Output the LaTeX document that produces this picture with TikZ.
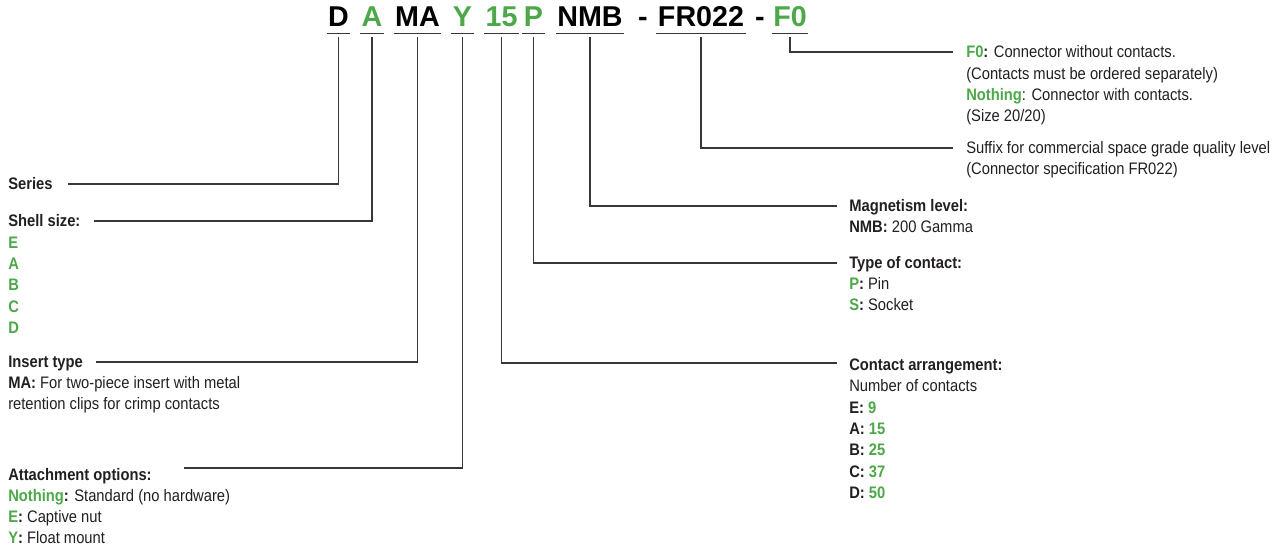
\documentclass[tikz,border=0pt]{standalone}
\usepackage{fontspec}
\setmainfont[FakeStretch=0.885]{Liberation Sans}
\newfontfamily\codefont{Liberation Sans}
\usetikzlibrary{positioning}

\definecolor{codegreen}{RGB}{76,168,72}
\definecolor{leadgray}{RGB}{55,55,55}
\definecolor{inkgray}{RGB}{35,31,32}
\newcommand\gkey[1]{\textcolor{codegreen}{\textbf{#1}}}

\tikzset{
  code/.style={font=\codefont\bfseries\fontsize{21.5}{24}\selectfont, anchor=base,
    inner xsep=1pt, inner ysep=4.5pt, text height=15pt, text depth=0pt},
  label/.style={anchor=base west, inner sep=0pt, text height=9pt, text depth=0pt, text=inkgray},
  lead/.style={draw=leadgray, line width=0.8pt},
  bar/.style={draw=leadgray, line width=0.8pt}
}

\begin{document}
\begin{tikzpicture}[x=0.75pt, y=-0.75pt, font=\fontsize{12.5}{16}\selectfont]
\useasboundingbox (0,0) rectangle (1273,548);

% part number
\node[code] (cD) at (338.5,27) {D};
\node[code, text=codegreen] (cA) at (372,27) {A};
\node[code] (cMA) at (417.5,27) {MA};
\node[code, text=codegreen] (cY) at (462.5,27) {Y};
\node[code, text=codegreen] (c15) at (501.5,27) {15};
\node[code, text=codegreen] (cP) at (533.5,27) {P};
\node[code] (cNMB) at (590,27) {NMB};
\node[code] (dash1) at (643,27) {-};
\node[code] (cFR) at (701,27) {FR022};
\node[code] (dash2) at (760,27) {-};
\node[code, text=codegreen] (cF0) at (790,27) {F0};
\foreach \n in {cD,cA,cMA,cY,c15,cP,cNMB,cFR,cF0}
  \draw[bar] (\n.south west) -- (\n.south east);

% left side
\node[label] (series) at (8,190) {\bfseries Series};
\node[label] (shell) at (8,227) {\bfseries Shell size:};
\foreach \k [count=\i] in {E,A,B,C,D}
  \node[label] (shell-\i) at (8,227+21.3*\i) {\gkey{\k}};
\node[label] (insert) at (8,368) {\bfseries Insert type};
\node[label] (insert-1) at (8,389) {\textbf{MA:} For two-piece insert with metal};
\node[label] (insert-2) at (8,410) {retention clips for crimp contacts};
\node[label] (attach) at (8,480) {\bfseries Attachment options:};
\node[label] (attach-1) at (8,501) {\gkey{Nothing}\textbf{:} Standard (no hardware)};
\node[label] (attach-2) at (8,522) {\gkey{E}\textbf{:} Captive nut};
\node[label] (attach-3) at (8,543) {\gkey{Y}\textbf{:} Float mount};

% right side
\node[label] (f0) at (966,58) {\gkey{F0}\textbf{:} Connector without contacts.};
\node[label] (f0-1) at (966,79.5) {(Contacts must be ordered separately)};
\node[label] (f0-2) at (966,101) {\gkey{Nothing}: Connector with contacts.};
\node[label] (f0-3) at (966,122) {(Size 20/20)};
\node[label] (suffix) at (966,154) {Suffix for commercial space grade quality level};
\node[label] (suffix-1) at (966,175) {(Connector specification FR022)};
\node[label] (magnet) at (849,212) {\bfseries Magnetism level:};
\node[label] (magnet-1) at (849,233) {\textbf{NMB:} 200 Gamma};
\node[label] (contact) at (849,269) {\bfseries Type of contact:};
\node[label] (contact-1) at (849,290) {\gkey{P}\textbf{:} Pin};
\node[label] (contact-2) at (849,311) {\gkey{S}\textbf{:} Socket};
\node[label] (arrange) at (849,371) {\bfseries Contact arrangement:};
\node[label] (arrange-1) at (849,392) {Number of contacts};
\foreach \k/\n [count=\i from 2] in {E/9,A/15,B/25,C/37,D/50}
  \node[label] (arrange-\i) at (849,392+21.3*\i-21.3) {\textbf{\k:} \gkey{\n}};

% leaders
\draw[lead, shorten <=3pt, shorten >=11.25pt] (cD.south) |- (series.east);
\draw[lead, shorten <=3pt, shorten >=9.75pt] (cA.south) |- (shell.east);
\draw[lead, shorten <=3pt, shorten >=9.75pt] (cMA.south) |- (insert.east);
\draw[lead, shorten <=3pt, shorten >=24pt] (cY.south) |- ([yshift=4.5pt]attach.east);
\draw[lead, shorten <=3pt, shorten >=9pt] (c15.south) |- ([yshift=1.5pt]arrange.west);
\draw[lead, shorten <=3pt, shorten >=9pt] (cP.south) |- (contact.west);
\draw[lead, shorten <=3pt, shorten >=9pt] (cNMB.south) |- (magnet.west);
\draw[lead, shorten <=3pt, shorten >=9.75pt] (cFR.south) |- (suffix.west);
\draw[lead, shorten <=3pt, shorten >=9.75pt] (cF0.south) |- (f0.west);
\end{tikzpicture}
\end{document}
